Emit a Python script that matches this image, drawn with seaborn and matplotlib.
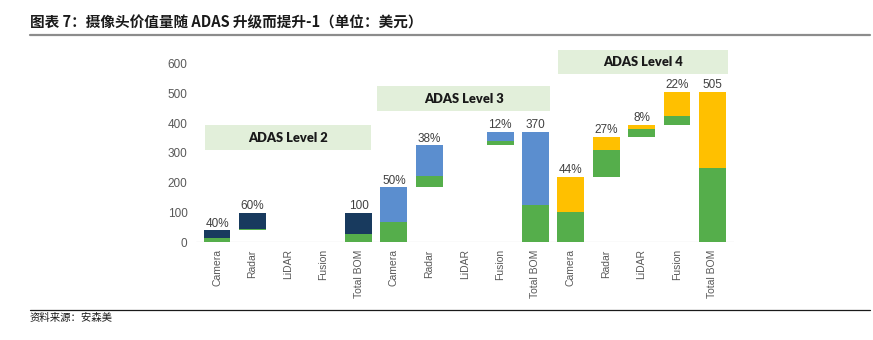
import matplotlib
matplotlib.use("Agg")
import matplotlib.pyplot as plt
import seaborn as sns
import pandas as pd
from matplotlib.patches import Rectangle
from matplotlib.lines import Line2D

# ---------------- data ----------------
categories = ["Camera", "Radar", "LiDAR", "Fusion", "Total BOM"] * 3
levels = ["ADAS Level 2"] * 5 + ["ADAS Level 3"] * 5 + ["ADAS Level 4"] * 5
bases = [0, 40, 0, 0, 0,
         0, 185, 0, 325, 0,
         0, 220, 355, 395, 0]
green_vals = [16, 5, 0, 0, 27,
              68, 37, 0, 15, 125,
              102, 90, 25, 29, 250]
top_vals = [24, 55, 0, 0, 73,
            117, 103, 0, 30, 245,
            118, 45, 15, 81, 255]
bar_labels = ["40%", "60%", "", "", "100",
              "50%", "38%", "", "12%", "370",
              "44%", "27%", "8%", "22%", "505"]
level_names = ["ADAS Level 2", "ADAS Level 3", "ADAS Level 4"]
yticks = [0, 100, 200, 300, 400, 500, 600]

title = "图表 7：摄像头价值量随 ADAS 升级而提升-1（单位：美元）"
source = "资料来源：安森美"

# ---------------- style ----------------
GREEN = "#55AE4B"
level_colors = {"ADAS Level 2": "#183A5E", "ADAS Level 3": "#5B8ECF", "ADAS Level 4": "#FFC000"}
BOX = "#E2EFDA"
GRAY = "#595959"

sns.set_theme(style="white")
plt.rcParams['font.family'] = ['Liberation Sans', 'Noto Sans CJK SC', 'DejaVu Sans']

fig = plt.figure(figsize=(8.73, 3.4), dpi=100)
ax = fig.add_axes([0.2243, 0.287, 0.616, 0.5265])

keys = [f"{l}|{c}" for l, c in zip(levels, categories)]
df = pd.DataFrame(dict(key=keys, cat=categories, level=levels, base=bases,
                       green=green_vals, top=top_vals, label=bar_labels))

W = 0.76

def shift(patches, bottoms):
    for p in patches:
        idx = int(round(p.get_x() + p.get_width() / 2))
        p.set_y(bottoms[idx])

n0 = len(ax.patches)
sns.barplot(data=df, x="key", y="green", order=keys, color=GREEN, width=W,
            ax=ax, errorbar=None, saturation=1, linewidth=0)
shift(ax.patches[n0:], list(df.base))

n1 = len(ax.patches)
sns.barplot(data=df, x="key", y="top", order=keys, hue="level", hue_order=level_names,
            palette=level_colors, dodge=False, width=W, ax=ax, errorbar=None,
            saturation=1, legend=False, linewidth=0)
shift(ax.patches[n1:], list(df.base + df.green))

for i, row in df.iterrows():
    if row.label:
        ax.annotate(row.label, (i, row.base + row.green + row.top), xytext=(0, 0.5),
                    textcoords="offset points", ha="center", va="bottom",
                    fontsize=8.5, color="#404040")

ax.axhline(0, color="#D9D9D9", lw=0.9, zorder=0.5)

# level boxes (layout positions in data coords)
boxes = [(-0.34, 4.35, 310, 393), (4.53, 9.41, 440, 524), (9.63, 14.44, 564, 645)]
for name, (x0, x1, y0, y1) in zip(level_names, boxes):
    ax.add_patch(Rectangle((x0, y0), x1 - x0, y1 - y0, facecolor=BOX, edgecolor="none",
                           clip_on=False, zorder=1))
    ax.text((x0 + x1) / 2, (y0 + y1) / 2, name, ha="center", va="center",
            fontsize=9.3, fontweight="heavy", color="#1a1a1a", family=["Lato", "DejaVu Sans"],
            zorder=2, clip_on=False)

ax.set_xlim(-0.6, 14.6)
ax.set_ylim(0, 600)
ax.set_yticks(yticks)
ax.set_yticklabels([str(v) for v in yticks])
ax.set_xticks(range(len(categories)))
ax.set_xticklabels(categories, rotation=90)
ax.tick_params(axis="both", length=0, colors=GRAY)
ax.tick_params(axis="y", pad=6, labelsize=8.5)
ax.tick_params(axis="x", pad=5, labelsize=7.5)
ax.set_xlabel("")
ax.set_ylabel("")
for s in ax.spines.values():
    s.set_visible(False)

# title and source
fig.text(30 / 873, 1 - 22 / 340, title, ha="left", va="center", fontsize=10.5,
         fontweight="bold", color="#1a1a1a", family=["Noto Sans CJK SC", "DejaVu Sans"])
fig.add_artist(Line2D([30 / 873, 870 / 873], [1 - 34.5 / 340] * 2, color="#8C8C8C", lw=1.6))
fig.add_artist(Line2D([30 / 873, 870 / 873], [1 - 310 / 340] * 2, color="#1a1a1a", lw=0.9))
fig.text(30 / 873, 1 - 318 / 340, source, ha="left", va="center", fontsize=7.5,
         color="#1a1a1a", family=["Noto Sans CJK SC", "DejaVu Sans"])

fig.savefig("out.png", dpi=100)
